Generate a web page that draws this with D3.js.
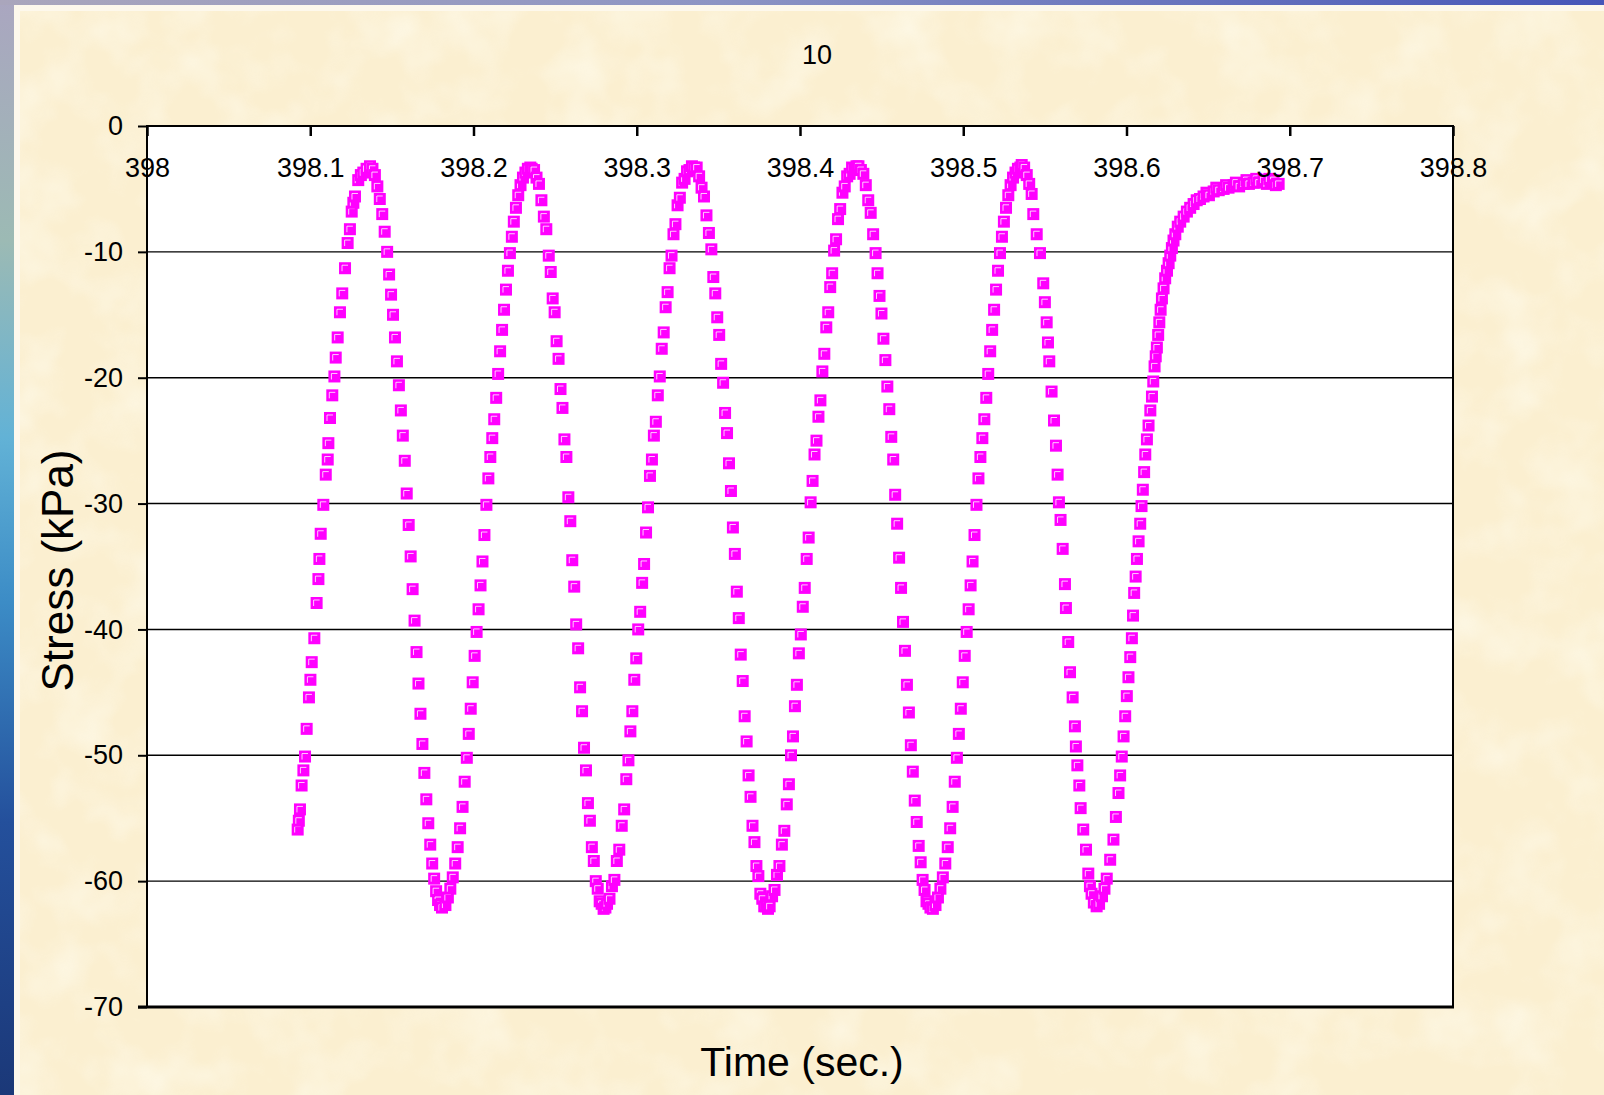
<!DOCTYPE html>
<html>
<head>
<meta charset="utf-8">
<script src="https://cdn.jsdelivr.net/npm/d3@7/dist/d3.min.js"></script>
<style>
  html, body { margin: 0; padding: 0; background: #fbf1d6; }
  svg { display: block; font-family: Arial, "Liberation Sans", sans-serif; }
</style>
</head>
<body>
<div id="chart"></div>
<script>
// chart text
const chartTitle = '10'
const xTitle = 'Time (sec.)'
const yTitle = 'Stress (kPa)'

// axis ticks
const xTicks = [398, 398.1, 398.2, 398.3, 398.4, 398.5, 398.6, 398.7, 398.8]
const xTickLabels = ['398', '398.1', '398.2', '398.3', '398.4', '398.5', '398.6', '398.7', '398.8']
const yTicks = [0, -10, -20, -30, -40, -50, -60, -70]
const gridValues = [-10, -20, -30, -40, -50, -60]

// [time (s), stress (kPa)]
const rampIn = [
  [398.0923, -55.9], [398.0930, -55.2], [398.0937, -54.3], [398.0947, -52.4], [398.0958, -51.2],
  [398.0968, -50.1], [398.0978, -47.9], [398.0992, -45.4], [398.1001, -44.0], [398.1009, -42.6],
  [398.1025, -40.7], [398.1039, -37.9], [398.1050, -36.0], [398.1056, -34.4], [398.1064, -32.4],
  [398.1080, -30.1], [398.1095, -27.7], [398.1107, -26.5], [398.1111, -25.2], [398.1121, -23.2],
  [398.1135, -21.4], [398.1148, -19.9], [398.1156, -18.4], [398.1168, -16.8], [398.1182, -14.8],
  [398.1196, -13.3], [398.1213, -11.3], [398.1229, -9.3], [398.1243, -8.2], [398.1254, -6.8],
  [398.1264, -6.1], [398.1274, -5.6], [398.1294, -4.3], [398.1310, -3.9], [398.1325, -3.7],
  [398.1345, -3.4]
]

const cycle1 = [
  [398.1366, -3.2], [398.1381, -3.4], [398.1396, -3.9], [398.1411, -4.8], [398.1426, -5.8],
  [398.1441, -7.0], [398.1456, -8.4], [398.1471, -10.0], [398.1483, -11.8], [398.1495, -13.4],
  [398.1507, -15.0], [398.1519, -16.8], [398.1531, -18.7], [398.1543, -20.6], [398.1555, -22.6],
  [398.1567, -24.6], [398.1579, -26.6], [398.1591, -29.2], [398.1603, -31.7], [398.1615, -34.2],
  [398.1627, -36.8], [398.1639, -39.3], [398.1651, -41.8], [398.1663, -44.3], [398.1675, -46.7],
  [398.1687, -49.1], [398.1699, -51.4], [398.1711, -53.5], [398.1723, -55.4], [398.1735, -57.1],
  [398.1747, -58.6], [398.1759, -59.8], [398.1771, -60.8], [398.1783, -61.5], [398.1795, -61.9],
  [398.1807, -62.1],
  [398.1828, -61.9], [398.1843, -61.3], [398.1858, -60.6], [398.1873, -59.7], [398.1888, -58.6],
  [398.1903, -57.3], [398.1918, -55.8], [398.1933, -54.1], [398.1946, -52.1], [398.1959, -50.2],
  [398.1971, -48.3], [398.1983, -46.3], [398.1995, -44.2], [398.2007, -42.1], [398.2019, -40.2],
  [398.2031, -38.4], [398.2043, -36.5], [398.2055, -34.6], [398.2067, -32.5], [398.2079, -30.1],
  [398.2091, -28.0], [398.2103, -26.3], [398.2115, -24.8], [398.2127, -23.3], [398.2139, -21.6],
  [398.2151, -19.7], [398.2163, -17.9], [398.2175, -16.2], [398.2187, -14.6], [398.2199, -13.0],
  [398.2211, -11.5], [398.2223, -10.1], [398.2235, -8.8], [398.2247, -7.6], [398.2260, -6.5],
  [398.2274, -5.5], [398.2288, -4.7], [398.2303, -4.1], [398.2318, -3.7], [398.2333, -3.4],
  [398.2348, -3.3]
]

const cycle2 = [
  [398.2356, -3.4], [398.2371, -3.5], [398.2386, -4.1], [398.2401, -4.6], [398.2416, -5.9],
  [398.2431, -7.2], [398.2446, -8.2], [398.2461, -10.3], [398.2473, -11.6], [398.2485, -13.7],
  [398.2497, -14.8], [398.2509, -17.1], [398.2521, -18.5], [398.2533, -20.9], [398.2545, -22.4],
  [398.2557, -24.9], [398.2569, -26.3], [398.2581, -29.5], [398.2593, -31.4], [398.2605, -34.5],
  [398.2617, -36.6], [398.2629, -39.6], [398.2641, -41.5], [398.2653, -44.6], [398.2665, -46.5],
  [398.2677, -49.4], [398.2689, -51.2], [398.2701, -53.8], [398.2713, -55.2], [398.2725, -57.3],
  [398.2737, -58.4], [398.2749, -60.0], [398.2761, -60.6], [398.2773, -61.6], [398.2785, -61.8],
  [398.2797, -62.2], [398.2808, -62.1],
  [398.2818, -61.8], [398.2833, -61.4], [398.2848, -60.4], [398.2863, -59.9], [398.2878, -58.4],
  [398.2893, -57.5], [398.2908, -55.6], [398.2923, -54.3], [398.2936, -51.9], [398.2949, -50.4],
  [398.2961, -48.1], [398.2973, -46.5], [398.2985, -44.0], [398.2997, -42.3], [398.3009, -40.0],
  [398.3021, -38.6], [398.3033, -36.3], [398.3045, -34.8], [398.3057, -32.3], [398.3069, -30.3],
  [398.3081, -27.8], [398.3093, -26.5], [398.3105, -24.6], [398.3117, -23.5], [398.3129, -21.4],
  [398.3141, -19.9], [398.3153, -17.7], [398.3165, -16.4], [398.3177, -14.4], [398.3189, -13.2],
  [398.3201, -11.3], [398.3213, -10.3], [398.3225, -8.6], [398.3237, -7.8], [398.3250, -6.3],
  [398.3264, -5.7], [398.3278, -4.5], [398.3293, -4.2], [398.3308, -3.6], [398.3323, -3.5],
  [398.3338, -3.2]
]

const cycle3 = [
  [398.3352, -3.3], [398.3367, -3.3], [398.3382, -4.0], [398.3397, -4.9], [398.3412, -5.6],
  [398.3427, -7.1], [398.3442, -8.5], [398.3457, -9.8], [398.3469, -12.0], [398.3481, -13.3],
  [398.3493, -15.2], [398.3505, -16.6], [398.3517, -18.9], [398.3529, -20.4], [398.3541, -22.8],
  [398.3553, -24.4], [398.3565, -26.8], [398.3577, -29.0], [398.3589, -31.9], [398.3601, -34.0],
  [398.3613, -37.0], [398.3625, -39.1], [398.3637, -42.0], [398.3649, -44.1], [398.3661, -46.9],
  [398.3673, -48.9], [398.3685, -51.6], [398.3697, -53.3], [398.3709, -55.6], [398.3721, -56.9],
  [398.3733, -58.8], [398.3745, -59.6], [398.3757, -61.0], [398.3769, -61.4], [398.3781, -62.0],
  [398.3793, -62.0], [398.3804, -62.2],
  [398.3814, -62.0], [398.3829, -61.2], [398.3844, -60.7], [398.3859, -59.5], [398.3874, -58.8],
  [398.3889, -57.1], [398.3904, -56.0], [398.3919, -53.9], [398.3932, -52.3], [398.3945, -50.0],
  [398.3957, -48.5], [398.3969, -46.1], [398.3981, -44.4], [398.3993, -41.9], [398.4005, -40.4],
  [398.4017, -38.2], [398.4029, -36.7], [398.4041, -34.4], [398.4053, -32.7], [398.4065, -29.9],
  [398.4077, -28.2], [398.4089, -26.1], [398.4101, -25.0], [398.4113, -23.1], [398.4125, -21.8],
  [398.4137, -19.5], [398.4149, -18.1], [398.4161, -16.0], [398.4173, -14.8], [398.4185, -12.8],
  [398.4197, -11.7], [398.4209, -9.9], [398.4221, -9.0], [398.4233, -7.4], [398.4246, -6.6],
  [398.4260, -5.3], [398.4274, -4.8], [398.4289, -4.0], [398.4304, -3.8], [398.4319, -3.3],
  [398.4334, -3.4], [398.4346, -3.2]
]

const cycle4 = [
  [398.4358, -3.2], [398.4373, -3.5], [398.4388, -3.8], [398.4403, -4.7], [398.4418, -5.9],
  [398.4433, -6.9], [398.4448, -8.6], [398.4463, -10.1], [398.4475, -11.7], [398.4487, -13.5],
  [398.4499, -14.9], [398.4511, -16.9], [398.4523, -18.6], [398.4535, -20.7], [398.4547, -22.5],
  [398.4559, -24.7], [398.4571, -26.5], [398.4583, -29.3], [398.4595, -31.6], [398.4607, -34.3],
  [398.4619, -36.7], [398.4631, -39.4], [398.4643, -41.7], [398.4655, -44.4], [398.4667, -46.6],
  [398.4679, -49.2], [398.4691, -51.3], [398.4703, -53.6], [398.4715, -55.3], [398.4727, -57.2],
  [398.4739, -58.5], [398.4751, -59.9], [398.4763, -60.7], [398.4775, -61.6], [398.4787, -61.8],
  [398.4799, -62.1], [398.4814, -62.2],
  [398.4830, -61.9], [398.4845, -61.3], [398.4860, -60.6], [398.4875, -59.7], [398.4890, -58.6],
  [398.4905, -57.3], [398.4920, -55.8], [398.4935, -54.1], [398.4948, -52.1], [398.4961, -50.2],
  [398.4973, -48.3], [398.4985, -46.3], [398.4997, -44.2], [398.5009, -42.1], [398.5021, -40.2],
  [398.5033, -38.4], [398.5045, -36.5], [398.5057, -34.6], [398.5069, -32.5], [398.5081, -30.1],
  [398.5093, -28.0], [398.5105, -26.3], [398.5117, -24.8], [398.5129, -23.3], [398.5141, -21.6],
  [398.5153, -19.7], [398.5165, -17.9], [398.5177, -16.2], [398.5189, -14.6], [398.5201, -13.0],
  [398.5213, -11.5], [398.5225, -10.1], [398.5237, -8.8], [398.5249, -7.6], [398.5262, -6.5],
  [398.5276, -5.5], [398.5290, -4.7], [398.5305, -4.1], [398.5320, -3.7], [398.5335, -3.4],
  [398.5350, -3.3]
]

const cycle5 = [
  [398.5358, -3.1], [398.5373, -3.3], [398.5389, -3.9], [398.5404, -4.6], [398.5419, -5.4],
  [398.5429, -7.0], [398.5450, -8.6], [398.5470, -10.1], [398.5490, -12.5], [398.5500, -14.0],
  [398.5511, -15.6], [398.5519, -17.2], [398.5527, -18.7], [398.5541, -21.1], [398.5556, -23.4],
  [398.5568, -25.4], [398.5578, -27.7], [398.5586, -29.9], [398.5596, -31.3], [398.5609, -33.6],
  [398.5623, -36.4], [398.5629, -38.3], [398.5643, -41.0], [398.5654, -43.4], [398.5670, -45.4],
  [398.5684, -47.7], [398.5690, -49.3], [398.5699, -50.8], [398.5711, -52.4], [398.5719, -54.2],
  [398.5735, -55.9], [398.5752, -57.5], [398.5766, -59.4], [398.5776, -60.4], [398.5786, -61.0],
  [398.5800, -61.7], [398.5817, -62.0], [398.5832, -61.8], [398.5850, -61.2]
]

const settle = [
  [398.5865, -60.6], [398.5879, -59.8], [398.5900, -58.3], [398.5920, -56.7], [398.5935, -54.9],
  [398.5951, -53.0], [398.5961, -51.6], [398.5971, -50.1], [398.5982, -48.5], [398.5992, -46.9],
  [398.6002, -45.3], [398.6012, -43.8], [398.6023, -42.2], [398.6033, -40.7], [398.6040, -38.9],
  [398.6047, -37.1], [398.6056, -35.8], [398.6064, -34.4], [398.6074, -33.0], [398.6084, -31.6],
  [398.6092, -30.2], [398.6100, -28.9], [398.6108, -27.5], [398.6115, -26.1], [398.6125, -24.9],
  [398.6135, -23.8], [398.6146, -22.6], [398.6156, -21.5], [398.6164, -20.3], [398.6172, -19.1],
  [398.6179, -18.3], [398.6186, -17.6], [398.6194, -16.6], [398.6201, -15.6], [398.6209, -14.6],
  [398.6217, -13.7], [398.6227, -12.9], [398.6237, -12.1], [398.6248, -11.5], [398.6258, -10.9],
  [398.6268, -10.3], [398.6278, -9.7], [398.6288, -9.1], [398.6299, -8.6], [398.6314, -8.0],
  [398.6329, -7.6], [398.6350, -7.2], [398.6370, -6.8], [398.6390, -6.5], [398.6411, -6.2],
  [398.6430, -5.9], [398.6450, -5.8], [398.6472, -5.6], [398.6490, -5.3], [398.6505, -5.5],
  [398.6534, -5.2], [398.6550, -4.9], [398.6565, -5.1], [398.6595, -5.0], [398.6610, -4.7],
  [398.6625, -4.9], [398.6656, -4.7], [398.6670, -4.5], [398.6690, -4.8], [398.6718, -4.6],
  [398.6735, -4.3], [398.6750, -4.6], [398.6779, -4.5], [398.6795, -4.2], [398.6810, -4.5],
  [398.6840, -4.3], [398.6860, -4.6], [398.6875, -4.2], [398.6901, -4.3], [398.6915, -4.7],
  [398.6932, -4.6]
]

const width = 1604
const height = 1095
const margin = { top: 126, right: 151, bottom: 88, left: 147 }
const plotW = width - margin.left - margin.right
const plotH = height - margin.top - margin.bottom
const markerColor = '#ff00ff'

const svg = d3.select('#chart')
  .append('svg')
  .attr('width', width)
  .attr('height', height)

// slide background
const defs = svg.append('defs')

const paper = defs.append('filter')
  .attr('id', 'paper')
  .attr('x', 0).attr('y', 0).attr('width', '100%').attr('height', '100%')
paper.append('feTurbulence')
  .attr('type', 'fractalNoise')
  .attr('baseFrequency', 0.018)
  .attr('numOctaves', 3)
  .attr('seed', 7)
paper.append('feColorMatrix')
  .attr('type', 'matrix')
  .attr('values', '0 0 0 0 1  0 0 0 0 1  0 0 0 0 0.93  1.8 0 0 0 -0.75')

const sideGrad = defs.append('linearGradient')
  .attr('id', 'side').attr('x1', 0).attr('y1', 0).attr('x2', 0).attr('y2', 1)
;[['0%', '#aaa6c0'], ['22%', '#9cbab4'], ['40%', '#62b2d6'], ['55%', '#3c8cc6'], ['75%', '#24509c'], ['100%', '#1b3878']]
  .forEach(([o, c]) => sideGrad.append('stop').attr('offset', o).attr('stop-color', c))

const topGrad = defs.append('linearGradient')
  .attr('id', 'topband').attr('x1', 0).attr('y1', 0).attr('x2', 1).attr('y2', 0)
;[['0%', '#aaa6bc'], ['45%', '#8c94c4'], ['100%', '#4656b8']]
  .forEach(([o, c]) => topGrad.append('stop').attr('offset', o).attr('stop-color', c))

svg.append('rect').attr('width', width).attr('height', height).attr('fill', '#fbefd0')
svg.append('rect').attr('width', width).attr('height', height).attr('filter', 'url(#paper)').attr('opacity', 0.55)
svg.append('rect').attr('x', 0).attr('y', 0).attr('width', 14).attr('height', height).attr('fill', 'url(#side)')
svg.append('rect').attr('x', 0).attr('y', 0).attr('width', width).attr('height', 5).attr('fill', 'url(#topband)')
svg.append('rect').attr('x', 14).attr('y', 5).attr('width', 6).attr('height', height - 5).attr('fill', '#fdf8ec')
svg.append('rect').attr('x', 14).attr('y', 5).attr('width', width - 14).attr('height', 6).attr('fill', '#fdf8ec')

// scales
const x = d3.scaleLinear()
  .domain([xTicks[0], xTicks[xTicks.length - 1]])
  .range([margin.left, margin.left + plotW])

const y = d3.scaleLinear()
  .domain([d3.min(yTicks), d3.max(yTicks)])
  .range([margin.top + plotH, margin.top])

// plot area
svg.append('rect')
  .attr('x', margin.left).attr('y', margin.top)
  .attr('width', plotW).attr('height', plotH)
  .attr('fill', '#ffffff')

svg.append('g')
  .selectAll('line')
  .data(gridValues)
  .enter()
  .append('line')
  .attr('x1', margin.left).attr('x2', margin.left + plotW)
  .attr('y1', d => y(d)).attr('y2', d => y(d))
  .attr('stroke', '#000').attr('stroke-width', 1.4)

// markers
const points = [].concat(rampIn, cycle1, cycle2, cycle3, cycle4, cycle5, settle)

const marks = svg.append('g')
  .selectAll('g')
  .data(points)
  .enter()
  .append('g')
  .attr('transform', d => `translate(${x(d[0])}, ${y(d[1])})`)

marks.append('rect')
  .attr('x', -6).attr('y', -6)
  .attr('width', 12).attr('height', 12)
  .attr('fill', markerColor)

marks.append('path')
  .attr('d', 'M-3,3V-3H3')
  .attr('fill', 'none')
  .attr('stroke', '#ffffff')
  .attr('stroke-width', 0.8)

// frame
svg.append('rect')
  .attr('x', margin.left).attr('y', margin.top)
  .attr('width', plotW).attr('height', plotH)
  .attr('fill', 'none')
  .attr('stroke', '#000').attr('stroke-width', 2)
svg.append('line')
  .attr('x1', margin.left - 9).attr('x2', margin.left + plotW + 1)
  .attr('y1', margin.top + plotH).attr('y2', margin.top + plotH)
  .attr('stroke', '#000').attr('stroke-width', 3)

// axes
const yAxis = d3.axisLeft(y)
  .tickValues(yTicks)
  .tickSize(9)
  .tickSizeOuter(0)
  .tickPadding(15)
  .tickFormat(d => String(d))

svg.append('g')
  .attr('transform', `translate(${margin.left}, 0)`)
  .call(yAxis)
  .call(g => g.select('.domain').remove())
  .call(g => g.selectAll('line').attr('stroke-width', 2))
  .call(g => g.selectAll('text').attr('font-size', '27px').attr('fill', '#000').attr('font-family', 'Arial, "Liberation Sans", sans-serif'))

const xAxis = d3.axisBottom(x)
  .tickValues(xTicks)
  .tickSize(10)
  .tickSizeOuter(0)
  .tickPadding(22)
  .tickFormat((d, i) => xTickLabels[i])

svg.append('g')
  .attr('transform', `translate(0, ${y(0)})`)
  .call(xAxis)
  .call(g => g.select('.domain').remove())
  .call(g => g.selectAll('line').attr('stroke-width', 2.5))
  .call(g => g.selectAll('text').attr('font-size', '27px').attr('fill', '#000').attr('font-family', 'Arial, "Liberation Sans", sans-serif'))

// titles
svg.append('text')
  .attr('x', 817).attr('y', 64)
  .attr('text-anchor', 'middle')
  .attr('font-size', '27px')
  .text(chartTitle)

svg.append('text')
  .attr('x', 802).attr('y', 1076)
  .attr('text-anchor', 'middle')
  .attr('font-size', '41px')
  .text(xTitle)

svg.append('text')
  .attr('text-anchor', 'middle')
  .attr('transform', `translate(73, ${margin.top + plotH / 2 + 4}) rotate(-90)`)
  .attr('font-size', '44px')
  .text(yTitle)
</script>
</body>
</html>
